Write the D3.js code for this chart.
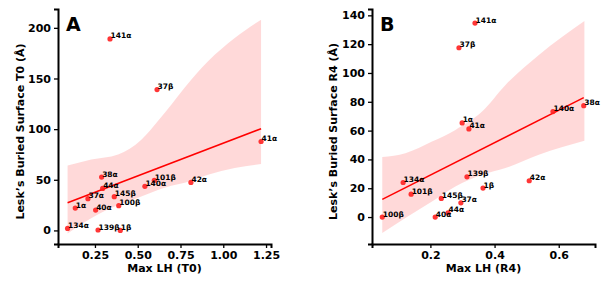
<!DOCTYPE html>
<html>
<head>
<meta charset="utf-8">
<script src="https://cdn.jsdelivr.net/npm/d3@7"></script>
<style>
  html, body { margin: 0; padding: 0; background: #fff; }
  svg { display: block; }
  text { font-family: "DejaVu Sans", sans-serif; font-weight: bold; fill: #000; }
</style>
</head>
<body>
<svg id="chart" width="604" height="281"></svg>
<script>
// ---------- Panel A data (T0) ----------
const labelsA = ["141α","37β","38α","44α","101β","140α","37α","145β","1α","40α","100β","134α","139β","1β","42α","41α"];
const xA = [0.338,0.613,0.289,0.295,0.597,0.542,0.209,0.363,0.135,0.254,0.389,0.090,0.268,0.398,0.811,1.221];
const yA = [189.1,139.1,52.7,41.5,49.5,43.5,31.3,33.3,22.1,20.1,24.4,2.0,0.4,0.0,47.4,87.8];
const bandAx  = [0.090,0.228,0.385,0.521,0.618,0.696,0.775,0.911,1.067,1.221];
const bandAlo = [-3,12,25,33.5,40,44,47,55,61.6,65.5];
const bandAhi = [64,70,75,89.5,108,124,141,167,190,208];
const ticksAx = [0.25,0.5,0.75,1.0,1.25];
const ticksAy = [0,50,100,150,200];

// ---------- Panel B data (R4) ----------
const labelsB = ["141α","37β","1α","41α","140α","38α","139β","1β","42α","134α","101β","145β","37α","100β","40α","44α"];
const xB = [0.339,0.289,0.299,0.320,0.582,0.678,0.314,0.364,0.508,0.115,0.140,0.234,0.295,0.050,0.215,0.255];
const yB = [134.6,117.5,65.3,61.2,73.2,77.3,27.9,20.1,25.2,24.0,15.9,12.9,9.9,0.0,0.0,3.0];
const bandBx  = [0.050,0.122,0.205,0.278,0.361,0.434,0.538,0.680];
const bandBlo = [-11,-0.7,10.8,21.2,29.3,34,43.2,52.9];
const bandBhi = [41.6,44.3,52.4,60.5,73.2,91.7,112.5,136];
const ticksBx = [0.2,0.4,0.6];
const ticksBy = [0,20,40,60,80,100,120,140];

const svg = d3.select("#chart");

function ols(xs, ys) {
  const mx = d3.mean(xs), my = d3.mean(ys);
  let sxy = 0, sxx = 0;
  xs.forEach((x, i) => { sxy += (x - mx) * (ys[i] - my); sxx += (x - mx) * (x - mx); });
  const b = sxy / sxx;
  return { a: my - b * mx, b };
}

function panel(cfg) {
  const g = svg.append("g");
  const x = d3.scaleLinear().domain(cfg.xdom).range([cfg.left, cfg.right]);
  const y = d3.scaleLinear().domain(cfg.ydom).range([cfg.bottom, cfg.top]);

  // confidence band
  const band = cfg.bx.map((v, i) => [v, cfg.blo[i], cfg.bhi[i]]);
  g.append("path")
    .attr("d", d3.area().x(d => x(d[0])).y0(d => y(d[1])).y1(d => y(d[2])).curve(d3.curveMonotoneX)(band))
    .attr("fill", "#ff0000").attr("fill-opacity", 0.15).attr("stroke", "none");

  // regression line
  const fit = ols(cfg.xs, cfg.ys);
  const x0 = d3.min(cfg.xs), x1 = d3.max(cfg.xs);
  g.append("line")
    .attr("x1", x(x0)).attr("y1", y(fit.a + fit.b * x0))
    .attr("x2", x(x1)).attr("y2", y(fit.a + fit.b * x1))
    .attr("stroke", "#ff0000").attr("stroke-width", 1.5);

  // points
  g.selectAll("circle.pt").data(cfg.xs).enter().append("circle")
    .attr("class", "pt")
    .attr("cx", d => x(d)).attr("cy", (d, i) => y(cfg.ys[i]))
    .attr("r", 2.6).attr("fill", "#ff2020").attr("fill-opacity", 0.9);

  // point labels
  g.selectAll("text.lab").data(cfg.labels).enter().append("text")
    .attr("class", "lab")
    .attr("x", (d, i) => x(cfg.xs[i]) + 0.5)
    .attr("y", (d, i) => y(cfg.ys[i]) - 0.5)
    .attr("font-size", "7.5px")
    .text(d => d);

  // axes
  const xa = g.append("g").attr("transform", `translate(0,${cfg.bottom})`)
    .call(d3.axisBottom(x).tickValues(cfg.xticks).tickFormat(d3.format(cfg.xfmt)).tickSizeOuter(0).tickSize(4).tickPadding(3));
  const ya = g.append("g").attr("transform", `translate(${cfg.left},0)`)
    .call(d3.axisLeft(y).tickValues(cfg.yticks).tickFormat(d3.format("d")).tickSizeOuter(0).tickSize(4).tickPadding(3));
  [xa, ya].forEach(a => {
    a.select(".domain").attr("stroke", "#000").attr("stroke-width", 2);
    a.selectAll(".tick line").attr("stroke", "#000").attr("stroke-width", 1.3);
    a.selectAll(".tick text").attr("font-size", "11px").attr("font-weight", "bold")
      .attr("font-family", "DejaVu Sans, sans-serif").attr("fill", "#000");
  });

  // axis titles
  g.append("text").attr("x", (cfg.left + cfg.right) / 2).attr("y", 272)
    .attr("text-anchor", "middle").attr("font-size", "11px").text(cfg.xlabel);
  g.append("text")
    .attr("transform", `translate(${cfg.ylabX},${(cfg.top + cfg.bottom) / 2 + 5}) rotate(-90)`)
    .attr("text-anchor", "middle").attr("font-size", "11px").text(cfg.ylabel);

  // panel letter
  g.append("text").attr("x", cfg.left + 8).attr("y", 31)
    .attr("font-size", "19px").attr("font-family", "Liberation Sans, Arial, sans-serif").text(cfg.letter);
}

panel({
  letter: "A", labels: labelsA, xs: xA, ys: yA,
  bx: bandAx, blo: bandAlo, bhi: bandAhi,
  xdom: [0.034, 1.279], ydom: [-13.4, 218.6],
  left: 58, right: 271, top: 9, bottom: 244,
  xticks: ticksAx, yticks: ticksAy, xfmt: ".2f",
  xlabel: "Max LH (T0)", ylabel: "Lesk’s Buried Surface T0 (Å)", ylabX: 24
});

panel({
  letter: "B", labels: labelsB, xs: xB, ys: yB,
  bx: bandBx, blo: bandBlo, bhi: bandBhi,
  xdom: [0.018, 0.713], ydom: [-18.7, 144.4],
  left: 372, right: 595, top: 9, bottom: 244,
  xticks: ticksBx, yticks: ticksBy, xfmt: ".1f",
  xlabel: "Max LH (R4)", ylabel: "Lesk’s Buried Surface R4 (Å)", ylabX: 337
});
</script>
</body>
</html>
